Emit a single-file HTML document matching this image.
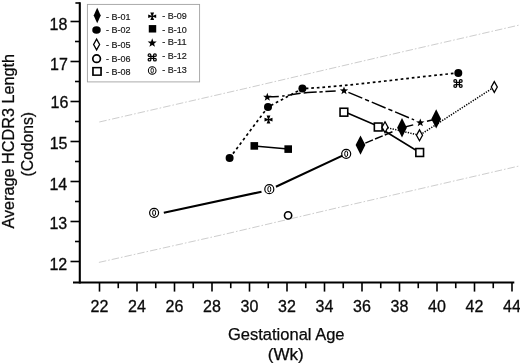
<!DOCTYPE html>
<html><head><meta charset="utf-8"><title>Figure</title>
<style>
html,body{margin:0;padding:0;background:#fff;}
body{width:520px;height:363px;overflow:hidden;}
svg{display:block;}
text{font-family:"Liberation Sans",Arial,sans-serif;fill:#0a0a0a;}
.tk{font-size:16px;stroke:#0a0a0a;stroke-width:0.3px;}
.ti{font-size:16px;stroke:#0a0a0a;stroke-width:0.25px;}
.lg{font-size:9.6px;fill:#1a1a1a;stroke:#1a1a1a;stroke-width:0.2px;}
</style></head><body>
<svg width="520" height="363" viewBox="0 0 520 363">
<defs>
<g id="fd"><path d="M0,-9.7 L4.9,0 L0,9.7 L-4.9,0 Z" fill="#000"/></g>
<g id="fc"><circle r="4" fill="#000"/></g>
<g id="od"><path d="M0,-5.4 L3.0,0 L0,5.4 L-3.0,0 Z" fill="#fff" stroke="#000" stroke-width="1.3"/></g>
<g id="oc"><circle r="3.6" fill="#fff" stroke="#000" stroke-width="1.6"/></g>
<g id="os"><rect x="-3.85" y="-3.95" width="7.7" height="7.9" fill="#fff" stroke="#000" stroke-width="1.6"/></g>
<g id="cp"><path d="M-0.6,-0.6 L-1.9,-4 L1.9,-4 L0.6,-0.6 L4,-1.9 L4,1.9 L0.6,0.6 L1.9,4 L-1.9,4 L-0.6,0.6 L-4,1.9 L-4,-1.9 Z" fill="#000"/></g>
<g id="fs"><rect x="-3.8" y="-3.8" width="7.6" height="7.6" fill="#000"/></g>
<g id="st"><path d="M0.00,-4.10 L1.06,-1.16 L4.18,-1.06 L1.71,0.86 L2.59,3.86 L0.00,2.10 L-2.59,3.86 L-1.71,0.86 L-4.18,-1.06 L-1.06,-1.16 Z" fill="#000"/></g>
<g id="cm" fill="none" stroke="#000" stroke-width="1.25"><path d="M-1.4,-1.1 H1.4 V1.1 H-1.4 Z"/><circle cx="-2.75" cy="-2.45" r="1.4"/><circle cx="2.75" cy="-2.45" r="1.4"/><circle cx="-2.75" cy="2.45" r="1.4"/><circle cx="2.75" cy="2.45" r="1.4"/></g>
<g id="dc"><circle r="4.5" fill="#fff" stroke="#000" stroke-width="1.2"/><ellipse rx="1.5" ry="2.85" fill="none" stroke="#000" stroke-width="1"/></g>
</defs>

<g stroke="#c4c4c4" stroke-width="0.85" fill="none" stroke-dasharray="7.5 2 1.6 2">
<polyline points="99.3,122 243.5,88.9 400,52.4 520,24.9"/>
<polyline points="98.9,262.4 224,234.4 340,207.2 520,165.8"/>
</g>
<g stroke="#000" stroke-width="2.1" fill="none">
<line x1="79.8" y1="2.2" x2="79.8" y2="283.5"/>
<line x1="73" y1="282.5" x2="514.3" y2="282.5"/>
</g>
<g stroke="#000" stroke-width="1.6" fill="none">
<line x1="70.5" y1="261.5" x2="79.7" y2="261.5"/>
<line x1="70.5" y1="221.5" x2="79.7" y2="221.5"/>
<line x1="70.5" y1="181.5" x2="79.7" y2="181.5"/>
<line x1="70.5" y1="141.5" x2="79.7" y2="141.5"/>
<line x1="70.5" y1="101.5" x2="79.7" y2="101.5"/>
<line x1="70.5" y1="61.5" x2="79.7" y2="61.5"/>
<line x1="70.5" y1="21.5" x2="79.7" y2="21.5"/>
<line x1="75" y1="241.5" x2="79.7" y2="241.5"/>
<line x1="75" y1="201.5" x2="79.7" y2="201.5"/>
<line x1="75" y1="161.5" x2="79.7" y2="161.5"/>
<line x1="75" y1="121.5" x2="79.7" y2="121.5"/>
<line x1="75" y1="81.5" x2="79.7" y2="81.5"/>
<line x1="75" y1="41.5" x2="79.7" y2="41.5"/>
<line x1="75.4" y1="3.0" x2="79.8" y2="3.0"/>
<line x1="99.5" y1="282.5" x2="99.5" y2="291.6"/>
<line x1="137.0" y1="282.5" x2="137.0" y2="291.6"/>
<line x1="174.5" y1="282.5" x2="174.5" y2="291.6"/>
<line x1="212.0" y1="282.5" x2="212.0" y2="291.6"/>
<line x1="249.5" y1="282.5" x2="249.5" y2="291.6"/>
<line x1="287.0" y1="282.5" x2="287.0" y2="291.6"/>
<line x1="324.5" y1="282.5" x2="324.5" y2="291.6"/>
<line x1="362.0" y1="282.5" x2="362.0" y2="291.6"/>
<line x1="399.5" y1="282.5" x2="399.5" y2="291.6"/>
<line x1="437.0" y1="282.5" x2="437.0" y2="291.6"/>
<line x1="474.5" y1="282.5" x2="474.5" y2="291.6"/>
<line x1="512.0" y1="282.5" x2="512.0" y2="291.6"/>
<line x1="118.25" y1="282.5" x2="118.25" y2="288.2"/>
<line x1="155.75" y1="282.5" x2="155.75" y2="288.2"/>
<line x1="193.25" y1="282.5" x2="193.25" y2="288.2"/>
<line x1="230.75" y1="282.5" x2="230.75" y2="288.2"/>
<line x1="268.25" y1="282.5" x2="268.25" y2="288.2"/>
<line x1="305.75" y1="282.5" x2="305.75" y2="288.2"/>
<line x1="343.25" y1="282.5" x2="343.25" y2="288.2"/>
<line x1="380.75" y1="282.5" x2="380.75" y2="288.2"/>
<line x1="418.25" y1="282.5" x2="418.25" y2="288.2"/>
<line x1="455.75" y1="282.5" x2="455.75" y2="288.2"/>
<line x1="493.25" y1="282.5" x2="493.25" y2="288.2"/>
</g>
<text class="tk" x="67.2" y="269.7" text-anchor="end">12</text>
<text class="tk" x="67.2" y="229.3" text-anchor="end">13</text>
<text class="tk" x="67.2" y="190.1" text-anchor="end">14</text>
<text class="tk" x="67.5" y="149.0" text-anchor="end">15</text>
<text class="tk" x="68.3" y="108.0" text-anchor="end">16</text>
<text class="tk" x="67.8" y="69.7" text-anchor="end">17</text>
<text class="tk" x="67.4" y="29.5" text-anchor="end">18</text>
<text class="tk" x="99.5" y="311.8" text-anchor="middle">22</text>
<text class="tk" x="137.0" y="311.8" text-anchor="middle">24</text>
<text class="tk" x="174.5" y="311.8" text-anchor="middle">26</text>
<text class="tk" x="212.0" y="311.8" text-anchor="middle">28</text>
<text class="tk" x="249.5" y="311.8" text-anchor="middle">30</text>
<text class="tk" x="287.0" y="311.8" text-anchor="middle">32</text>
<text class="tk" x="324.5" y="311.8" text-anchor="middle">34</text>
<text class="tk" x="362.0" y="311.8" text-anchor="middle">36</text>
<text class="tk" x="399.5" y="311.8" text-anchor="middle">38</text>
<text class="tk" x="437.0" y="311.8" text-anchor="middle">40</text>
<text class="tk" x="474.5" y="311.8" text-anchor="middle">42</text>
<text class="tk" x="512.0" y="311.8" text-anchor="middle">44</text>
<text class="ti" x="228" y="340" textLength="116.5" lengthAdjust="spacingAndGlyphs">Gestational Age</text>
<text class="ti" x="267.8" y="359.5" textLength="36" lengthAdjust="spacingAndGlyphs">(Wk)</text>
<text class="ti" transform="translate(13.8,228.5) rotate(-90)" textLength="174.5" lengthAdjust="spacingAndGlyphs">Average HCDR3 Length</text>
<text class="ti" transform="translate(32.6,176.5) rotate(-90)" textLength="64.5" lengthAdjust="spacingAndGlyphs">(Codons)</text>
<path d="M163.8,212.7 L261.5,191.7 M275.9,186.8 L346.2,153.9" fill="none" stroke="#000" stroke-width="2.15"/>
<path d="M229.6,158.1 L268,107 L302.4,88.6 C352,86.2 408,77.6 458.3,73" fill="none" stroke="#000" stroke-width="1.7" stroke-dasharray="2.7 2.9"/>
<polyline points="254.30,145.90 288.20,149.10" fill="none" stroke="#000" stroke-width="1.5"/>
<path d="M267.3,96.8 C276,96.8 282,96.3 290,95 S304,92.6 312,92.3 L344,90.5" fill="none" stroke="#000" stroke-width="1.5" stroke-dasharray="11.5 3.5 2.5 3.2 12.8 3.2 13 2.7 3.3 2.7 10.3 100"/>
<line x1="344.00" y1="90.50" x2="414.09" y2="119.89" stroke="#000" stroke-width="1.5" fill="none" stroke-dasharray="15 3 4.3 3" stroke-dashoffset="20.5"/>
<path d="M343.9,111.5 L378.2,126.2 M378.2,127 L419.7,152.5" fill="none" stroke="#000" stroke-width="1.5"/>
<polyline points="385.00,127.20 419.50,135.30 494.30,87.00" fill="none" stroke="#000" stroke-width="1.5" stroke-dasharray="1.3 1.3"/>
<line x1="365.30" y1="143.10" x2="392.44" y2="131.79" stroke="#000" stroke-width="1.5" fill="none" stroke-dasharray="8.3 2.25" stroke-dashoffset="0"/>
<line x1="402.00" y1="127.80" x2="436.20" y2="118.90" stroke="#000" stroke-width="1.5" fill="none" stroke-dasharray="11.6 14.2 20" stroke-dashoffset="0"/>
<use href="#dc" x="154.1" y="212.8"/>
<use href="#dc" x="269.3" y="189.2"/>
<use href="#dc" x="346.2" y="153.8"/>
<use href="#fc" x="229.6" y="158.1"/>
<use href="#fc" x="268" y="107"/>
<use href="#fc" x="302.4" y="88.6"/>
<use href="#fc" x="458.3" y="73"/>
<use href="#fs" x="254.3" y="145.9"/>
<use href="#fs" x="288.2" y="149.1"/>
<use href="#os" x="343.9" y="112.2"/>
<use href="#os" x="378.2" y="127"/>
<use href="#os" x="419.7" y="152.5"/>
<use href="#od" x="385" y="127.2"/>
<use href="#od" x="419.5" y="135.3"/>
<use href="#od" x="494.3" y="87"/>
<use href="#fd" x="360.5" y="145.1"/>
<use href="#fd" x="402" y="127.8"/>
<use href="#fd" x="436.2" y="118.9"/>
<use href="#st" x="267.3" y="96.8"/>
<use href="#st" x="344" y="90.5"/>
<use href="#st" x="420.3" y="122.5"/>
<use href="#cp" x="268.5" y="119.6"/>
<use href="#cm" x="458" y="83.5"/>
<use href="#oc" x="288.1" y="215.4"/>
<rect x="87.4" y="4.4" width="112.2" height="77.5" fill="#fff" stroke="#a2a2a2" stroke-width="0.9"/>
<use href="#fd" transform="translate(97.2,15.5) scale(0.72,0.79)"/>
<text class="lg" x="106" y="19.5" textLength="24.5" lengthAdjust="spacingAndGlyphs">- B-01</text>
<use href="#fc" transform="translate(96.5,29.9) scale(1.06,0.94)"/>
<text class="lg" x="106" y="33.3" textLength="24.5" lengthAdjust="spacingAndGlyphs">- B-02</text>
<use href="#od" transform="translate(96.6,44.5) scale(1.0,1.0)"/>
<text class="lg" x="106" y="48.0" textLength="24.5" lengthAdjust="spacingAndGlyphs">- B-05</text>
<use href="#oc" transform="translate(96.6,58.7) scale(1.06,1.04)"/>
<text class="lg" x="106" y="62.0" textLength="24.5" lengthAdjust="spacingAndGlyphs">- B-06</text>
<use href="#os" transform="translate(97.0,71.4) scale(1.05,0.95)"/>
<text class="lg" x="106" y="75.1" textLength="24.5" lengthAdjust="spacingAndGlyphs">- B-08</text>
<use href="#cp" transform="translate(152.2,16.2) scale(1.0,0.95)"/>
<text class="lg" x="162.2" y="18.8" textLength="24.5" lengthAdjust="spacingAndGlyphs">- B-09</text>
<use href="#fs" transform="translate(152.5,28.8) scale(0.98,0.98)"/>
<text class="lg" x="162.2" y="33.0" textLength="24.5" lengthAdjust="spacingAndGlyphs">- B-10</text>
<use href="#st" transform="translate(152.2,42.7) scale(1.08,1.08)"/>
<text class="lg" x="162.2" y="45.0" textLength="24.5" lengthAdjust="spacingAndGlyphs">- B-11</text>
<use href="#cm" transform="translate(152.2,57.4) scale(0.98,0.92)"/>
<text class="lg" x="162.2" y="59.3" textLength="24.5" lengthAdjust="spacingAndGlyphs">- B-12</text>
<use href="#dc" transform="translate(152.2,70.5) scale(0.85,0.85)"/>
<text class="lg" x="162.2" y="73.0" textLength="24.5" lengthAdjust="spacingAndGlyphs">- B-13</text>
</svg></body></html>
